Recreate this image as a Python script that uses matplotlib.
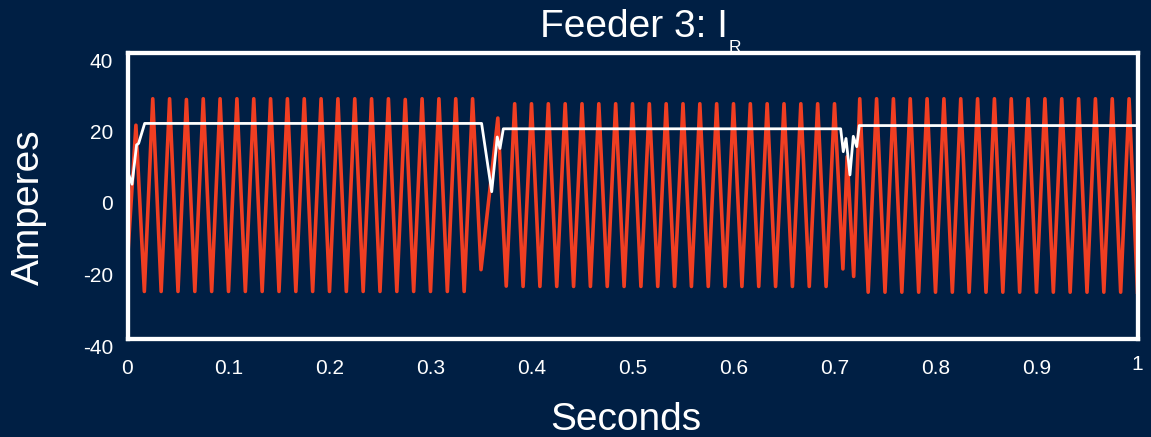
import numpy as np
import matplotlib
matplotlib.use("Agg")
import matplotlib.pyplot as plt
from matplotlib.transforms import ScaledTranslation

plt.rcParams['font.family'] = ['Liberation Sans', 'DejaVu Sans']
plt.rcParams['axes.unicode_minus'] = False

# ---- data -------------------------------------------------------------
# sample times (s): 120 samples/s grid, with two extra points at the 2nd disturbance
red_t = list(np.arange(0, 86) / 120) + [0.7125, 0.7190] + list(np.arange(87, 121) / 120)

red_i = [
    -18.0, 19.8,
    -26.7, 27.2, -26.7, 27.2, -26.7, 27.0, -26.7, 27.2, -26.7, 27.2,
    -26.7, 27.2, -26.7, 27.2, -26.7, 27.2, -26.7, 27.2, -26.7, 27.2,
    -26.7, 27.2, -26.7, 27.2, -26.7, 27.2, -26.7, 27.2, -26.7, 27.2,
    -26.7, 27.0, -26.7, 27.2, -26.7, 27.2, -26.7, 27.2, -26.7, 27.2,
    -20.6, 0.6, 21.8, -25.2,
    25.8, -25.3, 25.8, -25.3, 25.8, -25.3, 25.8, -25.3, 25.8, -25.3,
    25.8, -25.3, 25.8, -25.3, 25.8, -25.3, 25.8, -25.3, 25.8, -25.3,
    25.8, -25.3, 25.8, -25.3, 25.8, -25.3, 25.8, -25.3, 25.8, -25.3,
    25.8, -25.3, 25.8, -25.3, 25.8, -25.3, 25.8, -25.3, 25.8,
    -20.4, 11.0, -22.5,
    27.2, -26.9, 27.2, -26.9, 27.2, -26.9, 27.2, -26.9, 27.2, -26.9,
    27.2, -26.9, 27.2, -26.9, 27.2, -26.9, 27.2, -26.9, 27.2, -26.9,
    27.2, -26.9, 27.2, -26.9, 27.2, -26.9, 27.2, -26.9, 27.2, -26.9,
    27.2, -26.9, 27.2, -26.9,
]

rms_t = [0.000, 0.0045, 0.0090, 0.0110, 0.0170, 0.3506, 0.3606, 0.3661,
         0.3688, 0.3721, 0.7061, 0.7087, 0.7114, 0.7153, 0.7186, 0.7220,
         0.7245, 1.000]
rms_i = [7.0, 3.3, 14.3, 14.7, 20.3, 20.3, 1.2, 16.5,
         13.3, 18.8, 18.8, 12.4, 16.1, 5.9, 16.7, 13.8,
         19.7, 19.7]

xticks = [0, 0.1, 0.2, 0.3, 0.4, 0.5, 0.6, 0.7, 0.8, 0.9, 1]
xticklabels = ["0", "0.1", "0.2", "0.3", "0.4", "0.5", "0.6", "0.7", "0.8", "0.9", "1"]
yticks = [-40, -20, 0, 20, 40]
yticklabels = ["-40", "-20", "0", "20", "40"]

# ---- style ------------------------------------------------------------
BG = "#001F44"
RED = "#F03E22"
W, H, DPI = 1151, 437, 100

fig = plt.figure(figsize=(W / DPI, H / DPI), dpi=DPI, facecolor=BG)
ax = fig.add_axes([127.5 / W, 1 - 339 / H, (1137.5 - 127.5) / W, (339 - 53) / H])
ax.set_facecolor(BG)

ax.plot(red_t, red_i, color=RED, lw=2.6, solid_joinstyle='round', zorder=2)
ax.plot(rms_t, rms_i, color="white", lw=2.0, zorder=3)

ax.set_xlim(0, 1)
ax.set_ylim(-40, 40)
for s in ax.spines.values():
    s.set_color("white")
    s.set_linewidth(3.1)
    s.set_zorder(5)

ax.set_xticks(xticks)
ax.set_xticklabels(xticklabels)
ax.set_yticks(yticks)
ax.set_yticklabels(yticklabels)
ax.tick_params(axis='both', length=0, labelcolor='white', labelsize=15)
ax.tick_params(axis='x', pad=14.5)
ax.tick_params(axis='y', pad=10.5)

for lab in ax.get_yticklabels():
    lab.set_transform(lab.get_transform() + ScaledTranslation(0, -7 / DPI, fig.dpi_scale_trans))
xl = ax.get_xticklabels()
xl[-1].set_transform(xl[-1].get_transform() + ScaledTranslation(0, 4 / DPI, fig.dpi_scale_trans))

# title with subscript
fig.text(540 / W, 1 - 37 / H, "Feeder 3: I", color="white", fontsize=28,
         ha='left', va='baseline')
fig.text(729 / W, 1 - 51.5 / H, "R", color="white", fontsize=12.5,
         ha='left', va='baseline')

fig.text(626 / W, 1 - 430 / H, "Seconds", color="white", fontsize=28,
         ha='center', va='baseline')
fig.text(29 / W, 1 - 207 / H, "Amperes", color="white", fontsize=28,
         ha='center', va='center', rotation=90)

fig.savefig("out.png", dpi=DPI, facecolor=BG)
